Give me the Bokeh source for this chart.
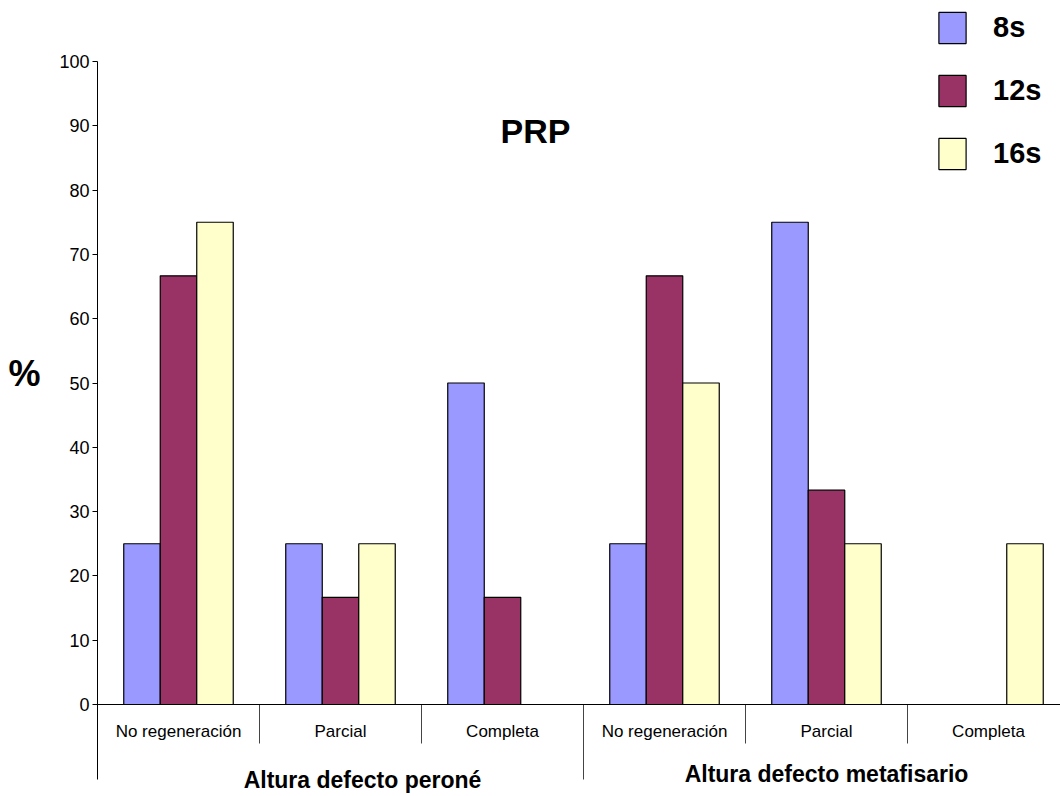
from bokeh.plotting import figure
from bokeh.models import (Range1d, FixedTicker, Span, Label, Legend, LegendItem,
                          ColumnDataSource)
from bokeh.embed import file_html
from bokeh.resources import INLINE

# --- data -------------------------------------------------------------
categories = ["No regeneración", "Parcial", "Completa",
              "No regeneración", "Parcial", "Completa"]
groups = ["Altura defecto peroné", "Altura defecto metafisario"]
series = ["8s", "12s", "16s"]
values_8s = [25, 25, 50, 25, 75, 0]
values_12s = [66.67, 16.67, 16.67, 66.67, 33.33, 0]
values_16s = [75, 25, 0, 50, 25, 25]
y_ticks = [0, 10, 20, 30, 40, 50, 60, 70, 80, 90, 100]

colors = ["#9999FF", "#993366", "#FFFFCC"]
FONT = "Liberation Sans"

W, H = 1060, 796
LEFT = 97
ZERO_PX = 704          # pixel row of value 0
PX_PER_UNIT = 6.43     # pixels per percentage point
CAT_PX = 162           # pixels per category slot

y_start = -(H - ZERO_PX) / PX_PER_UNIT
y_end = ZERO_PX / PX_PER_UNIT
x_end = (W - LEFT) / CAT_PX
axis_low = -75 / PX_PER_UNIT      # axis line runs below the baseline
divider_low = -39 / PX_PER_UNIT

p = figure(width=W, height=H, output_backend="svg", toolbar_location=None,
           x_range=Range1d(0, x_end), y_range=Range1d(y_start, y_end),
           x_axis_location=None, min_border_left=LEFT, min_border_right=0,
           min_border_top=0, min_border_bottom=0)
p.outline_line_color = None
p.xgrid.visible = False
p.ygrid.visible = False
p.background_fill_color = "white"
p.border_fill_color = "white"

# y axis
yax = p.yaxis[0]
yax.ticker = FixedTicker(ticks=y_ticks)
yax.bounds = (axis_low, 100)
yax.axis_line_color = "black"
yax.major_tick_line_color = "black"
yax.major_tick_out = 5
yax.major_tick_in = 0
yax.minor_tick_line_color = None
yax.major_label_standoff = 3
yax.major_label_text_font = FONT
yax.major_label_text_font_size = "18px"
yax.major_label_text_color = "black"
yax.axis_label = "%\n"
yax.axis_label_orientation = "horizontal"
yax.axis_label_standoff = 16
yax.axis_label_text_font = FONT
yax.axis_label_text_font_size = "36px"
yax.axis_label_text_font_style = "bold"
yax.axis_label_text_color = "black"

# bars
n = len(categories)
centers = [i + 0.5 for i in range(n)]
bar_w = 36.5 / CAT_PX
renderers = []
for k, (name, vals) in enumerate(zip(series, [values_8s, values_12s, values_16s])):
    src = ColumnDataSource(dict(x=[c + (k - 1) * bar_w for c in centers], top=vals))
    r = p.vbar(x="x", top="top", bottom=0, width=bar_w, source=src,
               fill_color=colors[k], line_color="black", line_width=1.2)
    renderers.append(r)

# category axis: baseline, dividers, labels
p.add_layout(Span(location=0, dimension="width", line_color="black", line_width=1))
for i in range(1, n):
    low = axis_low if i == 3 else divider_low
    p.segment(x0=[i], y0=[0], x1=[i], y1=[low], line_color="#444444", line_width=1)
p.text(x=centers, y=[-27 / PX_PER_UNIT] * n, text=categories,
       text_align="center", text_baseline="middle",
       text_font={"value": FONT}, text_font_size="17px", text_color="black")

# group labels
p.add_layout(Label(x=(362 - LEFT) / CAT_PX, y=-(779 - ZERO_PX) / PX_PER_UNIT,
                   text=groups[0], text_align="center", text_baseline="middle",
                   text_font=FONT, text_font_size="23px", text_font_style="bold",
                   text_color="black"))
p.add_layout(Label(x=4.5, y=-(773 - ZERO_PX) / PX_PER_UNIT,
                   text=groups[1], text_align="center", text_baseline="middle",
                   text_font=FONT, text_font_size="23px", text_font_style="bold",
                   text_color="black"))

# title
p.add_layout(Label(x=(535 - LEFT) / CAT_PX, y=(ZERO_PX - 130) / PX_PER_UNIT,
                   text="PRP", text_align="center", text_baseline="middle",
                   text_font=FONT, text_font_size="34px", text_font_style="bold",
                   text_color="black"))

# legend
legend = Legend(items=[LegendItem(label=s, renderers=[r]) for s, r in zip(series, renderers)],
                location=(838, 623), orientation="vertical",
                glyph_width=34, glyph_height=39, spacing=24, padding=0,
                label_standoff=24, label_text_font=FONT, label_text_font_size="29px",
                label_text_font_style="bold", label_text_color="black",
                label_text_baseline="top",
                border_line_color=None, background_fill_alpha=0)
p.add_layout(legend)

open("out.html", "w").write(file_html(p, INLINE))
